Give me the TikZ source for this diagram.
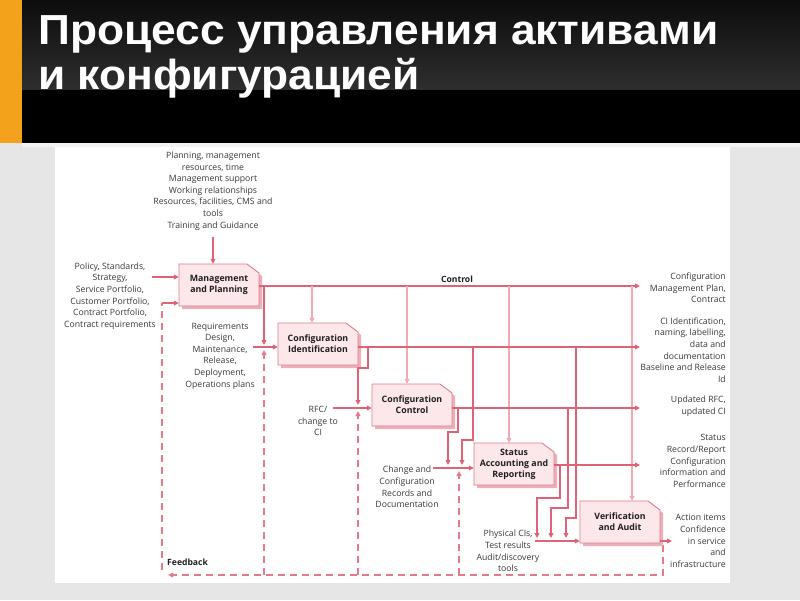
\documentclass[tikz,border=0pt]{standalone}
\usepackage{fontspec}
\setmainfont{Open Sans}
\newfontfamily\titlefont[FakeStretch=1.055]{Liberation Sans}
\usetikzlibrary{arrows.meta}
\definecolor{ln}{HTML}{E06276}
\definecolor{lnlight}{HTML}{F2A9B3}
\definecolor{boxfill}{HTML}{FCE7EB}
\definecolor{boxdraw}{HTML}{E07A8A}
\definecolor{shadowc}{HTML}{EDB0B8}
\definecolor{txt}{HTML}{3A3A3A}
\definecolor{orangebar}{HTML}{F2A31B}
\definecolor{pagegray}{HTML}{E6E6E6}
\newcommand\procbox[4]{%
  \begin{scope}[shift={(#2,#3)}]
    \fill[shadowc] (-37,24) -- (-37,-18) -- (31,-18) -- (43,-9) -- (43,24) -- cycle;
    \filldraw[fill=boxfill,draw=boxdraw,line width=0.9pt] (-40,21) -- (-40,-21) -- (28,-21) -- (40,-12) -- (40,21) -- cycle;
  \end{scope}
  \node[boxtext] (#1) at (#2,#3) {#4};
}
\begin{document}
\begin{tikzpicture}[x=1pt,y=-1pt,
  arr/.style={ln,line width=1.4pt,-{Triangle[length=5pt,width=4.8pt]}},
  larr/.style={lnlight,line width=1.4pt,-{Triangle[length=5pt,width=4.8pt]}},
  fb/.style={ln!85,line width=1.3pt,dash pattern=on 7pt off 5pt},
  fbarr/.style={fb,-{Triangle[length=5pt,width=4.8pt]}},
  boxtext/.style={minimum width=80pt,minimum height=42pt,inner sep=0pt,align=center,
    font=\fontsize{8.8}{11}\selectfont\bfseries,text=black!88},
  small/.style={inner sep=0pt,align=center,text=txt,font=\fontsize{8.7}{11.6}\selectfont},
  rsmall/.style={small,align=right,anchor=east},
  lbl/.style={inner sep=0pt,font=\fontsize{8.6}{10}\selectfont\bfseries,text=black!88}]
\useasboundingbox (0,0) rectangle (800,600);
% background
\fill[pagegray] (0,0) rectangle (800,600);
\fill[black] (0,0) rectangle (800,143);
\shade[top color=black!95,bottom color=black!82] (0,0) rectangle (800,89);
\fill[orangebar] (0,0) rectangle (22,143);
\fill[black!5] (22,143) rectangle (800,147);
\fill[white] (55,147) rectangle (730,583);
% title
\node[anchor=base west,inner sep=0pt,text=white,font=\titlefont\bfseries\fontsize{42}{45}\selectfont] (title1) at (38,44) {Процесс управления активами};
\node[anchor=base west,inner sep=0pt,text=white,font=\titlefont\bfseries\fontsize{42}{45}\selectfont] (title2) at (38,89) {и конфигурацией};
% texts
\node[small] (tTop) at (213,191) {Planning, management\\resources, time\\Management support\\Working relationships\\Resources, facilities, CMS and\\tools\\Training and Guidance};
\node[small] (tLeft) at (110,296) {Policy, Standards,\\Strategy,\\Service Portfolio,\\Customer Portfolio,\\Contract Portfolio,\\Contract requirements};
\node[small] (tReq) at (220,356) {Requirements\\Design,\\Maintenance,\\Release,\\Deployment,\\Operations plans};
\node[small] (tRFC) at (318,421) {RFC/\\change to\\CI};
\node[small] (tChg) at (407,487) {Change and\\Configuration\\Records and\\Documentation};
\node[small] (tPhys) at (508,551) {Physical CIs,\\Test results\\Audit/discovery\\tools};
\node[rsmall] (oA) at (726,288) {Configuration\\Management Plan,\\Contract};
\node[rsmall] (oB) at (726,350) {CI Identification,\\naming, labelling,\\data and\\documentation\\Baseline and Release\\Id};
\node[rsmall] (oC) at (726,406) {Updated RFC,\\updated CI};
\node[rsmall] (oD) at (726,461) {Status\\Record/Report\\Configuration\\information and\\Performance};
\node[rsmall] (oE) at (726,541) {Action items\\Confidence\\in service\\and\\infrastructure};
\node[lbl] (lControl) at (457,279) {Control};
\node[lbl,anchor=west] (lFeedback) at (167,562) {Feedback};
% feedback (dashed)
\draw[fbarr] (663,545) -- (663,575) -- (168,575);
\draw[fb] (162,570) -- (162,303);
\draw[fbarr] (264,575) -- (264,350);
\draw[fbarr] (358,575) -- (358,411);
\draw[fbarr] (459,575) -- (459,471);
% boxes
\procbox{MP}{219}{285}{Management\\and Planning}
\procbox{CI}{318}{344}{Configuration\\Identification}
\procbox{CC}{412}{405}{Configuration\\Control}
\procbox{SAR}{514}{464}{Status\\Accounting and\\Reporting}
\procbox{VA}{620}{522}{Verification\\and Audit}
% inputs to MP
\draw[arr] (213,237) -- (MP.north -| 213,0);
\draw[arr] (152,277) -- (MP.west |- 0,277);
\draw[arr] (162,303) -- (MP.west |- 0,303);
% control
\draw[arr] (MP.east |- 0,286) -- (640,286);
\draw[arr] (264,286) -- (264,345);
\draw[larr] (312,286) -- (CI.north -| 312,0);
\draw[larr] (407,286) -- (CC.north -| 407,0);
\draw[larr] (509,286) -- (SAR.north -| 509,0);
\draw[larr] (632,286) -- (VA.north -| 632,0);
% CI
\draw[arr] (253,347) -- (CI.west |- 0,347);
\draw[arr] (CI.east |- 0,347) -- (640,347);
\draw[arr] (368,347) -- (368,368) -- (358,368) -- (358,405);
\draw[arr] (473,347) -- (473,440) -- (462,440) -- (462,465);
\draw[arr] (576,347) -- (576,518) -- (566,518) -- (566,538);
% CC
\draw[arr] (333,408) -- (CC.west |- 0,408);
\draw[arr] (CC.east |- 0,408) -- (640,408);
\draw[arr] (458,408) -- (458,432) -- (448,432) -- (448,465);
\draw[arr] (568,408) -- (568,508) -- (551,508) -- (551,538);
% SAR
\draw[arr] (433,468) -- (SAR.west |- 0,468);
\draw[arr] (SAR.east |- 0,465) -- (640,465);
\draw[arr] (560,465) -- (560,498) -- (537,498) -- (537,538);
% VA
\draw[arr] (535,541) -- (VA.west |- 0,541);
\draw[arr] (VA.east |- 0,541) -- (672,541);
\end{tikzpicture}
\end{document}
